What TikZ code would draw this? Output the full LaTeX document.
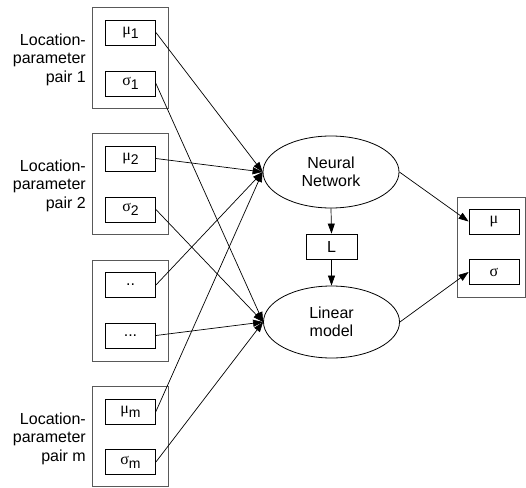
\documentclass[tikz,border=0pt]{standalone}
\usepackage{fontspec}
\setmainfont{Liberation Sans}
\newfontfamily\grkfont{Liberation Serif}
\usetikzlibrary{arrows.meta,shapes.geometric}
\newcommand\grsub[2]{{\grkfont\fontsize{16}{16}\selectfont #1}\raisebox{-4pt}{\fontsize{14}{14}\selectfont #2}}
\tikzset{
  cluster/.style={draw=black!65, line width=1pt},
  inbox/.style={draw, line width=0.8pt, minimum width=50pt, minimum height=25pt, inner sep=0pt, font=\fontsize{16}{18}\selectfont},
  oval/.style={draw, ellipse, line width=0.8pt, minimum width=136pt, minimum height=72pt, inner sep=0pt, align=center, font=\fontsize{16}{18.5}\selectfont},
  lbl/.style={anchor=east, align=right, inner sep=0pt, font=\fontsize{16}{18.5}\selectfont},
  edge/.style={line width=0.7pt, -{Triangle[length=10pt,width=7pt]}},
}
\begin{document}
\begin{tikzpicture}[x=1pt,y=-1pt]
\useasboundingbox (0,0) rectangle (526,487);
% left clusters
\draw[cluster] (92.5,7.5) rectangle (168,108);
\draw[cluster] (92.5,133.5) rectangle (168,234);
\draw[cluster] (92.5,260.5) rectangle (168,361);
\draw[cluster] (92.5,386.5) rectangle (168,486.5);
\node[lbl] (l1) at (86,59.5) {Location-\\parameter\\pair 1};
\node[lbl] (l2) at (86,185.5) {Location-\\parameter\\pair 2};
\node[lbl] (lm) at (86,438.5) {Location-\\parameter\\pair m};
\node[inbox] (mu1) at (130.5,32.5) {\grsub{μ}{1}};
\node[inbox] (s1) at (130.5,83.5) {\grsub{σ}{1}};
\node[inbox] (mu2) at (130.5,158.5) {\grsub{μ}{2}};
\node[inbox] (s2) at (130.5,209.5) {\grsub{σ}{2}};
\node[inbox] (d1) at (130.5,285) {..};
\node[inbox] (d2) at (130.5,335.5) {...};
\node[inbox] (mum) at (130.5,411.5) {\grsub{μ}{m}};
\node[inbox] (sm) at (130.5,462) {\grsub{σ}{m}};
% middle
\node[oval] (nn) at (331,172) {Neural\\Network};
\node[inbox, minimum width=51pt] (L) at (331.5,246.5) {L};
\node[oval] (lin) at (331.5,322) {Linear\\model};
% output cluster
\draw[cluster] (457.5,197.5) rectangle (525.5,297);
\node[inbox] (mu) at (494,221.5) {{\grkfont μ}};
\node[inbox] (sg) at (494,272) {{\grkfont σ}};
% edges
\draw[edge] (mu1.east) -- (nn.west);
\draw[edge] (mu2.east) -- (nn.west);
\draw[edge] (d1.east) -- (nn.west);
\draw[edge] (mum.east) -- (nn.west);
\draw[edge] (s1.east) -- (lin.west);
\draw[edge] (s2.east) -- (lin.west);
\draw[edge] (d2.east) -- (lin.west);
\draw[edge] (sm.east) -- (lin.west);
\draw[edge] (nn.south) -- (L.north);
\draw[edge] (L.south) -- (lin.north);
\draw[edge] (nn.east) -- (mu.west);
\draw[edge] (lin.east) -- (sg.west);
\end{tikzpicture}
\end{document}
